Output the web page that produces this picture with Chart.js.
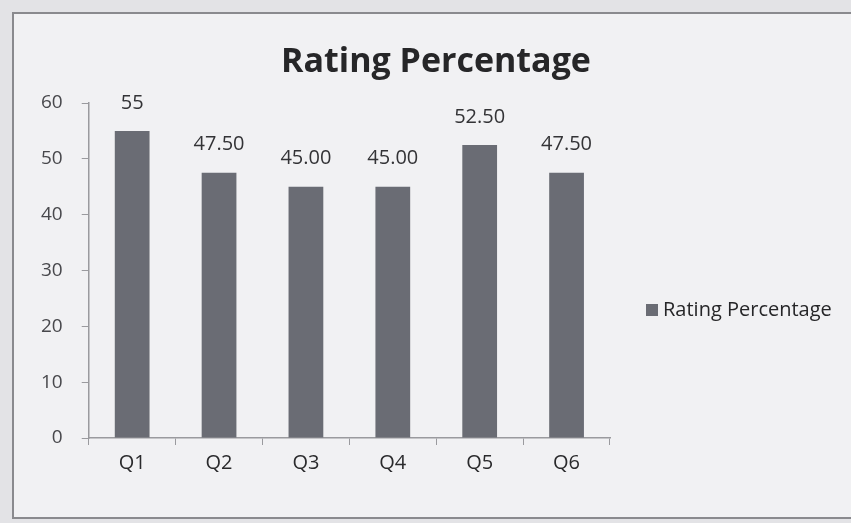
<!DOCTYPE html>
<html>
<head>
<meta charset="utf-8">
<script src="https://cdn.jsdelivr.net/npm/chart.js@4"></script>
<style>
  html, body { margin: 0; padding: 0; width: 851px; height: 523px; overflow: hidden; background: #e3e3e6; }
  #frame { position: absolute; left: 12px; top: 12px; width: 860px; height: 503px; border: 2px solid #8a8a8e; background: #f1f1f3; }
  #wrap { position: absolute; left: 0; top: 0; width: 851px; height: 523px; }
</style>
</head>
<body>
<div id="frame"></div>
<div id="wrap"><canvas id="c" width="851" height="523"></canvas></div>
<script>
const categories = ['Q1', 'Q2', 'Q3', 'Q4', 'Q5', 'Q6'];
const ratingValues = [55, 47.5, 45, 45, 52.5, 47.5];
const valueLabels = ['55', '47.50', '45.00', '45.00', '52.50', '47.50'];
const yTicks = [0, 10, 20, 30, 40, 50, 60];
const seriesName = 'Rating Percentage';
const chartTitle = 'Rating Percentage';

const FONT = "'Open Sans', 'DejaVu Sans', sans-serif";

const valueLabelPlugin = {
  id: 'valueLabels',
  afterDatasetsDraw(chart) {
    const ctx = chart.ctx;
    const meta = chart.getDatasetMeta(0);
    ctx.save();
    ctx.font = '20px ' + FONT;
    ctx.fillStyle = '#333336';
    ctx.textAlign = 'center';
    ctx.textBaseline = 'middle';
    meta.data.forEach((bar, i) => {
      ctx.fillText(valueLabels[i], bar.x, bar.y - 28);
    });
    ctx.restore();
  }
};

const titleAndLegend = {
  id: 'titleAndLegend',
  afterDraw(chart) {
    const ctx = chart.ctx;
    ctx.save();
    // title
    ctx.font = 'bold 34px ' + FONT;
    ctx.fillStyle = '#262628';
    ctx.textAlign = 'center';
    ctx.textBaseline = 'middle';
    ctx.fillText(chartTitle, 436, 62);
    // legend
    const ds = chart.data.datasets[0];
    const x = chart.chartArea.right + 36;
    const y = 310;
    ctx.fillStyle = ds.backgroundColor;
    ctx.fillRect(x, y - 6, 12, 12);
    ctx.font = '20px ' + FONT;
    ctx.fillStyle = '#262628';
    ctx.textAlign = 'left';
    ctx.fillText(ds.label, x + 17, y);
    ctx.restore();
  }
};

new Chart(document.getElementById('c'), {
  type: 'bar',
  data: {
    labels: categories,
    datasets: [{
      label: seriesName,
      data: ratingValues,
      backgroundColor: '#6a6c74',
      borderWidth: 0,
      categoryPercentage: 1.0,
      barPercentage: 0.4
    }]
  },
  options: {
    responsive: false,
    animation: false,
    devicePixelRatio: 1,
    layout: { padding: { top: 103, left: 22, right: 241, bottom: 42 } },
    plugins: {
      legend: { display: false },
      tooltip: { enabled: false },
      title: { display: false }
    },
    scales: {
      x: {
        offset: true,
        grid: { display: true, drawOnChartArea: false, drawTicks: true, tickLength: 7, color: '#9a9a9e', offset: true },
        border: { display: true, color: '#9a9a9e', width: 1.5 },
        ticks: { color: '#2a2a2c', font: { family: FONT, size: 20 }, padding: 6 }
      },
      y: {
        min: 0, max: 60,
        afterBuildTicks(scale) { scale.ticks = yTicks.map(v => ({ value: v })); },
        grid: { display: true, drawOnChartArea: false, drawTicks: true, tickLength: 7, color: '#9a9a9e' },
        border: { display: true, color: '#9a9a9e', width: 1.5 },
        ticks: { color: '#48484c', font: { family: FONT, size: 19 }, padding: 19 }
      }
    }
  },
  plugins: [valueLabelPlugin, titleAndLegend]
});
</script>
</body>
</html>
